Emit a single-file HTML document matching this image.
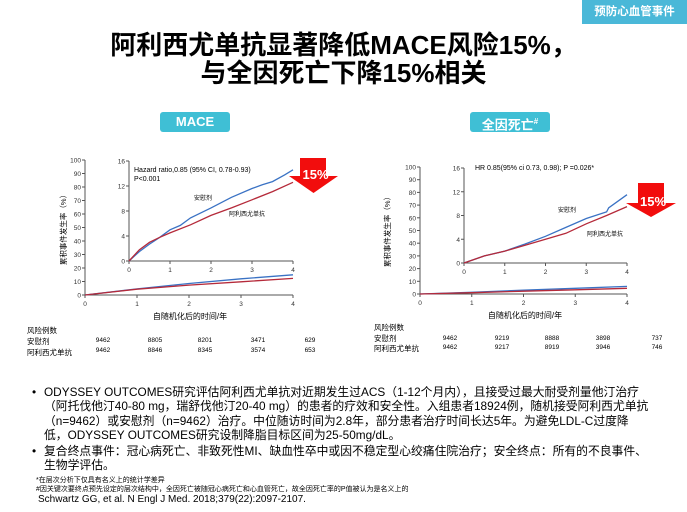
<!DOCTYPE html>
<html><head><meta charset="utf-8">
<style>
body{margin:0;width:687px;height:512px;overflow:hidden;background:#fff;font-family:"Liberation Sans","Noto Sans CJK SC",sans-serif;position:relative}
.abs{position:absolute}
.title{left:0;width:687px;text-align:center;font-weight:bold;font-size:26px;line-height:28px;top:31px;color:#000}
.tab{left:582px;top:0;width:105px;height:24px;background:#4ab8d8;color:#fff;font-size:11.5px;font-weight:bold;line-height:24px;text-align:center}
.pill{background:#3fbfd5;color:#fff;font-weight:bold;font-size:13px;text-align:center;line-height:20px;height:20px;border-radius:3px;top:112px}
.txt{left:44px;width:606px;font-size:11.8px;line-height:14.4px;color:#000;top:385px}
.txt p{margin:0 0 1px 0;position:relative}
.bul{position:absolute;left:-12px}
</style></head><body>
<div class="abs tab">预防心血管事件</div>
<div class="abs title">阿利西尤单抗显著降低MACE风险15%，<br>与全因死亡下降15%相关</div>
<div class="abs pill" style="left:160px;width:70px">MACE</div>
<div class="abs pill" style="left:470px;width:80px">全因死亡<sup style="font-size:8px">#</sup></div>
<svg class="abs" style="left:0;top:0" width="687" height="512" id="svg"></svg>
<div class="abs txt">
<p><span class="bul">•</span>ODYSSEY OUTCOMES研究评估阿利西尤单抗对近期发生过ACS（1-12个月内），且接受过最大耐受剂量他汀治疗（阿托伐他汀40-80 mg，瑞舒伐他汀20-40 mg）的患者的疗效和安全性。入组患者18924例，随机接受阿利西尤单抗（n=9462）或安慰剂（n=9462）治疗。中位随访时间为2.8年，部分患者治疗时间长达5年。为避免LDL-C过度降低，ODYSSEY OUTCOMES研究设制降脂目标区间为25-50mg/dL。</p>
<p><span class="bul">•</span>复合终点事件：冠心病死亡、非致死性MI、缺血性卒中或因不稳定型心绞痛住院治疗；安全终点：所有的不良事件、生物学评估。</p>
</div>
<div class="abs" style="left:36px;top:477px;font-size:7px;line-height:8.5px">*在层次分析下仅具有名义上的统计学差异<br>#因关键次要终点预先设定的层次结构中，全因死亡被随冠心病死亡和心血管死亡，故全因死亡率的P值被认为是名义上的</div>
<div class="abs" style="left:38px;top:494px;font-size:10px">Schwartz GG, et al. N Engl J Med. 2018;379(22):2097-2107.</div>
<script>
const years=[0,1,2,3,4];
const mainTicks=[0,10,20,30,40,50,60,70,80,90,100];
const insetTicks=[0,4,8,12,16];
const maceInsetPlaceboT=[0,0.25,0.5,0.75,1,1.25,1.5,2,2.5,3,3.25,3.5,3.8,4];
const maceInsetPlaceboV=[0,1.5,2.7,3.8,5,5.7,6.9,8.5,10.2,11.6,12.2,12.7,13.8,14.6];
const maceInsetDrugT=[0,0.25,0.5,0.75,1,1.5,2,2.5,3,3.5,4];
const maceInsetDrugV=[0,1.8,3,3.8,4.5,5.8,7.3,8.5,9.8,11.1,12.6];
const maceMainPlaceboV=[0,4.5,8.5,12,15];
const maceMainDrugV=[0,4.3,7.3,9.8,12.3];
const deathInsetPlaceboT=[0,0.5,1,1.5,2,2.5,3,3.5,3.55,4];
const deathInsetPlaceboV=[0,1.2,2,3.2,4.5,6,7.5,8.6,9.3,11.5];
const deathInsetDrugT=[0,0.5,1,1.5,2,2.5,3,3.5,4];
const deathInsetDrugV=[0,1.2,2,3,4,5,6.6,8,9.5];
const deathMainPlaceboV=[0,1.3,3,4.5,6];
const deathMainDrugV=[0,1,2.2,3.3,4.5];
const maceRiskPlacebo=["9462","8805","8201","3471","629"];
const maceRiskDrug=["9462","8846","8345","3574","653"];
const deathRiskPlacebo=["9462","9219","8888","3898","737"];
const deathRiskDrug=["9462","9217","8919","3946","746"];
const NS="http://www.w3.org/2000/svg";
const svg=document.getElementById('svg');
function el(t,a,txt){const e=document.createElementNS(NS,t);for(const k in a)e.setAttribute(k,a[k]);if(txt!==undefined)e.textContent=txt;svg.appendChild(e);return e;}
function axes(x0,x1,y0,y1,vmax,ticks,name,fs){
  const sx=v=>x0+(x1-x0)*v/4, sy=v=>y0-(y0-y1)*v/vmax;
  let e=el('path',{d:`M${x0} ${y1}V${y0}H${x1}`,stroke:'#555',fill:'none','stroke-width':1});
  
  ticks.forEach(t=>{el('line',{x1:x0-3,x2:x0,y1:sy(t),y2:sy(t),stroke:'#555'});
    let l=el('text',{x:x0-4,y:sy(t)+2.5,'font-size':fs,'text-anchor':'end',fill:'#333'},t);
    });
  years.forEach(t=>{el('line',{x1:sx(t),x2:sx(t),y1:y0,y2:y0+3,stroke:'#555'});
    let l=el('text',{x:sx(t),y:y0+11,'font-size':fs,'text-anchor':'middle',fill:'#333'},t);
    });
  return {sx,sy};
}
function line(a,ts,vs,col,name){
  const d=ts.map((t,i)=>(i?'L':'M')+a.sx(t).toFixed(1)+' '+a.sy(vs[i]).toFixed(1)).join('');
  const e=el('path',{d,stroke:col,fill:'none','stroke-width':1.3});
  
}
function arrow(bx,by,bw,bh,tx0,tx1,tipy,name){
  const cx=(tx0+tx1)/2;
  const e=el('path',{d:`M${bx} ${by}H${bx+bw}V${by+bh}H${tx1}L${cx} ${tipy}L${tx0} ${by+bh}H${bx}Z`,fill:'#f20d0d'});
  
  const t=el('text',{x:cx+2,y:by+bh+3,'font-size':13,'font-weight':'bold',fill:'#fff','text-anchor':'middle'},'15%');
  
}
function txt(x,y,s,fs,name,anchor){const t=el('text',{x,y,'font-size':fs,fill:'#000','text-anchor':anchor||'start'},s);return t;}
const blue='#3a72c4',red='#b52a3a';
let m=axes(85,293,295,160,100,mainTicks,'mace-main',6.5);
line(m,years,maceMainPlaceboV,blue,'mace-main-placebo-line');
line(m,years,maceMainDrugV,red,'mace-main-alirocumab-line');
let mi=axes(129,293,261,161,16,insetTicks,'mace-inset',6.5);
line(mi,maceInsetPlaceboT,maceInsetPlaceboV,blue,'mace-inset-placebo-line');
line(mi,maceInsetDrugT,maceInsetDrugV,red,'mace-inset-alirocumab-line');
txt(134,172,'Hazard ratio,0.85 (95% CI, 0.78-0.93)',7,'mace-hr-text');
txt(134,181,'P<0.001',7,'mace-p-text');
txt(194,200,'安慰剂',6,'mace-placebo-label');
txt(229,216,'阿利西尤单抗',6,'mace-drug-label');
arrow(300,158,26,18,289,338,193,'mace-reduction-arrow');
let yl=txt(0,0,'累积事件发生率（%）',7.5,'mace-y-axis-title','middle');yl.setAttribute('transform','translate(66 228) rotate(-90)');
txt(190,319,'自随机化后的时间/年',8,'mace-x-axis-title','middle');
txt(27,333,'风险例数',7.5,'mace-risk-header');
txt(27,344,'安慰剂',7.5,'mace-risk-placebo-label');
txt(27,355,'阿利西尤单抗',7.5,'mace-risk-drug-label');
const lc=[103,155,205,258,310];
maceRiskPlacebo.forEach((v,i)=>txt(lc[i],342,v,6.5,'mace-risk-placebo-value','middle'));
maceRiskDrug.forEach((v,i)=>txt(lc[i],352,v,6.5,'mace-risk-drug-value','middle'));
let d=axes(420,627,294,167,100,mainTicks,'death-main',6.5);
line(d,years,deathMainPlaceboV,blue,'death-main-placebo-line');
line(d,years,deathMainDrugV,red,'death-main-alirocumab-line');
let di=axes(464,627,263,168,16,insetTicks,'death-inset',6.5);
line(di,deathInsetPlaceboT,deathInsetPlaceboV,blue,'death-inset-placebo-line');
line(di,deathInsetDrugT,deathInsetDrugV,red,'death-inset-alirocumab-line');
txt(475,170,'HR 0.85(95% ci 0.73, 0.98); P =0.026*',7,'death-hr-text');
txt(558,212,'安慰剂',6,'death-placebo-label');
txt(587,236,'阿利西尤单抗',6,'death-drug-label');
arrow(638,183,26,20,626,676,217,'death-reduction-arrow');
let yl2=txt(0,0,'累积事件发生率（%）',7.5,'death-y-axis-title','middle');yl2.setAttribute('transform','translate(390 230) rotate(-90)');
txt(525,318,'自随机化后的时间/年',8,'death-x-axis-title','middle');
txt(374,330,'风险例数',7.5,'death-risk-header');
txt(374,341,'安慰剂',7.5,'death-risk-placebo-label');
txt(374,351,'阿利西尤单抗',7.5,'death-risk-drug-label');
const rc=[450,502,552,603,657];
deathRiskPlacebo.forEach((v,i)=>txt(rc[i],340,v,6.5,'death-risk-placebo-value','middle'));
deathRiskDrug.forEach((v,i)=>txt(rc[i],349,v,6.5,'death-risk-drug-value','middle'));
</script>
</body></html>
